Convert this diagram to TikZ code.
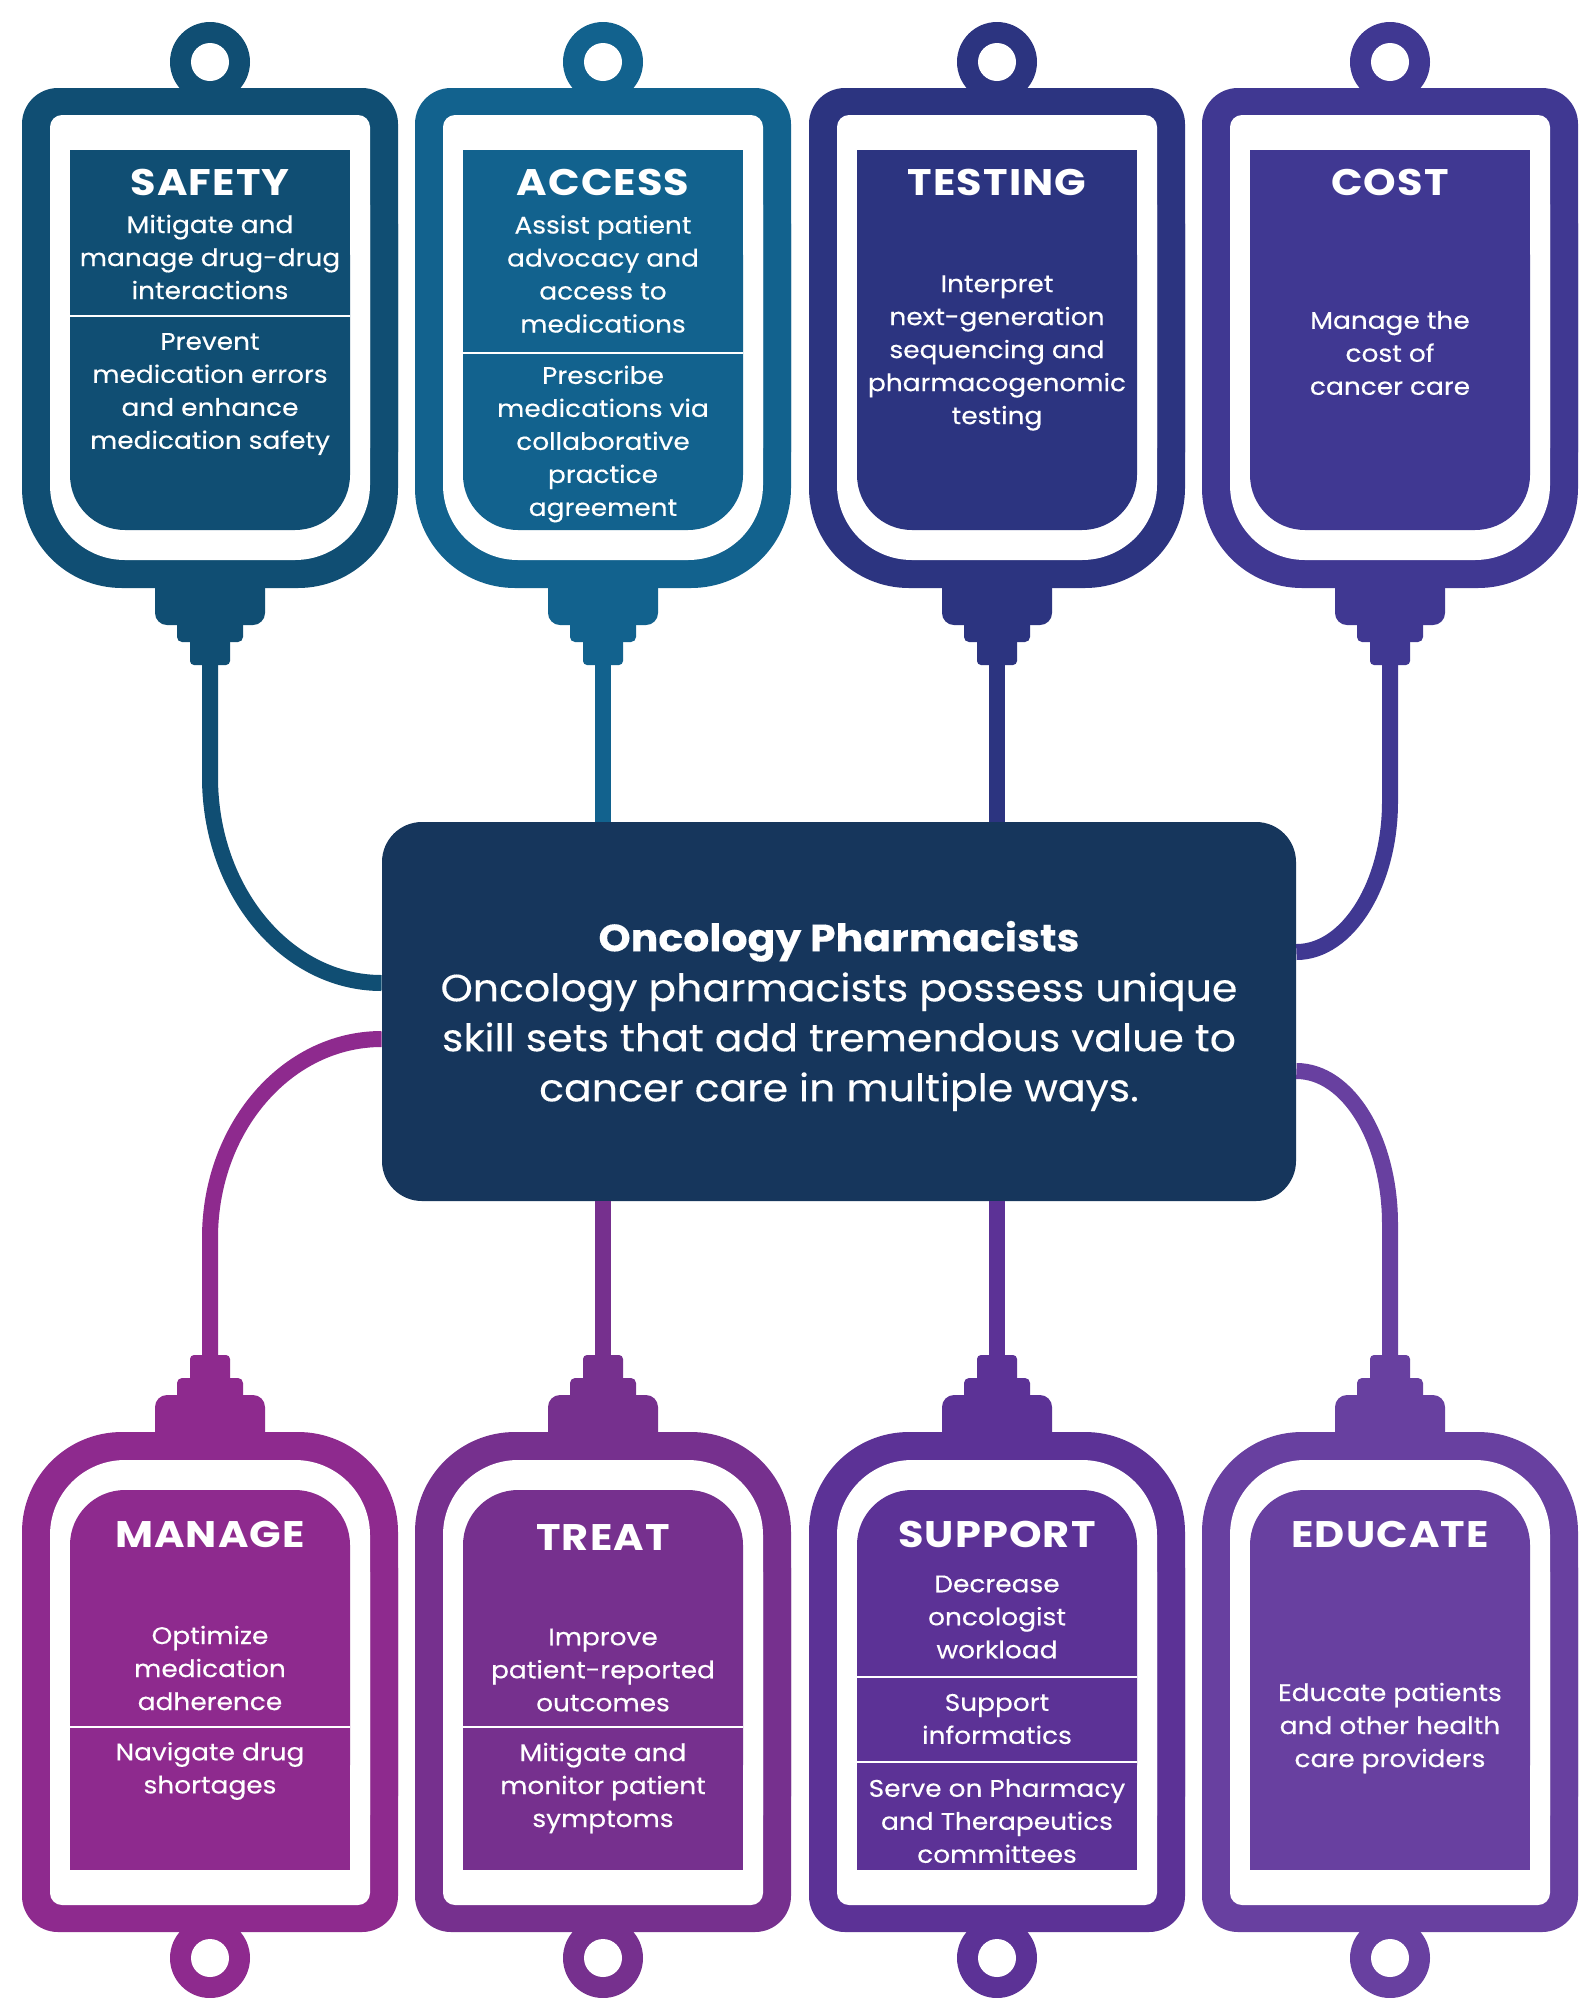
\documentclass[tikz,border=0pt]{standalone}
\usepackage{fontspec}
\setmainfont{Poppins}
\newfontfamily\bodyfont[FakeStretch=1.1,FakeBold=0.3]{Poppins}
\newfontfamily\headfont[FakeStretch=1.12,LetterSpace=3]{Poppins}
\newfontfamily\hubfont[FakeStretch=1.08,FakeBold=0.2]{Poppins}

\definecolor{cSafety}{HTML}{104E73}
\definecolor{cAccess}{HTML}{12628E}
\definecolor{cTesting}{HTML}{2C3480}
\definecolor{cCost}{HTML}{403892}
\definecolor{cHub}{HTML}{16365C}
\definecolor{cManage}{HTML}{8E2A8E}
\definecolor{cTreat}{HTML}{76308E}
\definecolor{cSupport}{HTML}{5C3296}
\definecolor{cEducate}{HTML}{6840A0}

% One IV bag, hanger at the top and outlet port at the bottom.
% #1 = centre x, #2 = colour
\newcommand{\ivbag}[2]{%
  % outer body: small radius at the hanger end, large at the port end
  \fill[#2,rounded corners=18pt] ({#1-188},88) rectangle ({#1+188},488);
  \fill[#2,rounded corners=50pt] ({#1-188},124) rectangle ({#1+188},588);
  % hanger ring
  \fill[#2] (#1,62) circle[radius=40];
  \fill[white] (#1,62) circle[radius=19];
  % white rim
  \fill[white,rounded corners=6pt] ({#1-160},115) rectangle ({#1+160},460);
  \fill[white,rounded corners=37.5pt] ({#1-160},130) rectangle ({#1+160},560);
  % label panel
  \fill[#2] ({#1-140},150) rectangle ({#1+140},450);
  \fill[#2,rounded corners=27.5pt] ({#1-140},200) rectangle ({#1+140},530);
  % stepped outlet port
  \fill[#2,rounded corners=6pt] ({#1-55},570) rectangle ({#1+55},625);
  \fill[#2,rounded corners=2.5pt] ({#1-33},615) rectangle ({#1+33},642);
  \fill[#2,rounded corners=2pt] ({#1-20},635) rectangle ({#1+20},665);
}

\begin{document}
\begin{tikzpicture}[x=0.5pt,y=-0.5pt,
  head/.style={text=white,inner sep=0pt,font=\headfont\bfseries\fontsize{18.5}{20}\selectfont},
  body/.style={text=white,inner sep=0pt,align=center,font=\bodyfont\fontsize{12}{16.5}\selectfont},
  divider/.style={white,line width=0.9pt},
  tube/.style={line width=8pt},
  hub/.style={fill=cHub,rounded corners=20pt,minimum width=457pt,minimum height=189.5pt,
    inner sep=0pt,text=white,align=center,font=\hubfont\fontsize{19}{25}\selectfont}]

\useasboundingbox (0,0) rectangle (1583,1998);
\fill[white] (0,0) rectangle (1583,1998);

% ---- bags above the hub
\ivbag{210}{cSafety}
\ivbag{603}{cAccess}
\ivbag{997}{cTesting}
\ivbag{1390}{cCost}

% ---- bags below the hub (mirrored)
\begin{scope}[shift={(0,2020)},yscale=-1]
  \ivbag{210}{cManage}
  \ivbag{603}{cTreat}
  \ivbag{997}{cSupport}
  \ivbag{1390}{cEducate}
\end{scope}

% ---- outlet ends of the ports
\coordinate (safety-port)  at (210,662);
\coordinate (access-port)  at (603,662);
\coordinate (testing-port) at (997,662);
\coordinate (cost-port)    at (1390,662);
\coordinate (manage-port)  at (210,1358);
\coordinate (treat-port)   at (603,1358);
\coordinate (support-port) at (997,1358);
\coordinate (educate-port) at (1390,1358);

% ---- central box
\node[hub] (hub) at (839,1011.5) {};
\node[text=white,align=center,inner sep=0pt,font=\hubfont\fontsize{19}{25}\selectfont]
  (hub-text) at (839,1016)
  {{\bfseries Oncology Pharmacists}\\
   Oncology pharmacists possess unique\\
   skill sets that add tremendous value to\\
   cancer care in multiple ways.};

% ---- tubes
\draw[tube,cSafety] (safety-port) -- ++(0,115)
  .. controls +(0,114) and +(-95,0) .. ([yshift=14.25pt]hub.west);
\draw[tube,cAccess] (access-port) -- (access-port |- hub.north);
\draw[tube,cTesting] (testing-port) -- (testing-port |- hub.north);
\draw[tube,cCost] (cost-port) -- ++(0,140)
  .. controls +(0,81) and +(52,0) .. ([yshift=29.75pt]hub.east);
\draw[tube,cManage] (manage-port) -- ++(0,-120)
  .. controls +(0,-110) and +(-95,0) .. ([yshift=-13.75pt]hub.west);
\draw[tube,cTreat] (treat-port) -- (treat-port |- hub.south);
\draw[tube,cSupport] (support-port) -- (support-port |- hub.south);
\draw[tube,cEducate] (educate-port) -- ++(0,-134)
  .. controls +(0,-84) and +(52,0) .. ([yshift=-29.75pt]hub.east);

% ---- labels, upper row
\node[head] (safety) at (210,182) {SAFETY};
\node[body] (safety-1) at (210,257) {Mitigate and\\manage drug-drug\\interactions};
\draw[divider] (70,316) -- (350,316);
\node[body] (safety-2) at (210,394) {Prevent\\medication errors\\and enhance\\medication safety};

\node[head] (access) at (603,182) {ACCESS};
\node[body] (access-1) at (603,274) {Assist patient\\advocacy and\\access to\\medications};
\draw[divider] (463,353) -- (743,353);
\node[body] (access-2) at (603,444) {Prescribe\\medications via\\collaborative\\practice\\agreement};

\node[head] (testing) at (997,182) {TESTING};
\node[body] (testing-1) at (997,353) {Interpret\\next-generation\\sequencing and\\pharmacogenomic\\testing};

\node[head] (cost) at (1390,182) {COST};
\node[body] (cost-1) at (1390,353) {Manage the\\cost of\\cancer care};

% ---- labels, lower row
\node[head] (manage) at (210,1534) {MANAGE};
\node[body] (manage-1) at (210,1668) {Optimize\\medication\\adherence};
\draw[divider] (70,1727) -- (350,1727);
\node[body] (manage-2) at (210,1771) {Navigate drug\\shortages};

\node[head] (treat) at (603,1537) {TREAT};
\node[body] (treat-1) at (603,1670) {Improve\\patient-reported\\outcomes};
\draw[divider] (463,1727) -- (743,1727);
\node[body] (treat-2) at (603,1788) {Mitigate and\\monitor patient\\symptoms};

\node[head] (support) at (997,1534) {SUPPORT};
\node[body] (support-1) at (997,1617) {Decrease\\oncologist\\workload};
\draw[divider] (857,1677) -- (1137,1677);
\node[body] (support-2) at (997,1719) {Support\\informatics};
\draw[divider] (857,1762) -- (1137,1762);
\node[body] (support-3) at (997,1821) {Serve on Pharmacy\\and Therapeutics\\committees};

\node[head] (educate) at (1390,1534) {EDUCATE};
\node[body] (educate-1) at (1390,1728) {Educate patients\\and other health\\care providers};
\end{tikzpicture}
\end{document}
